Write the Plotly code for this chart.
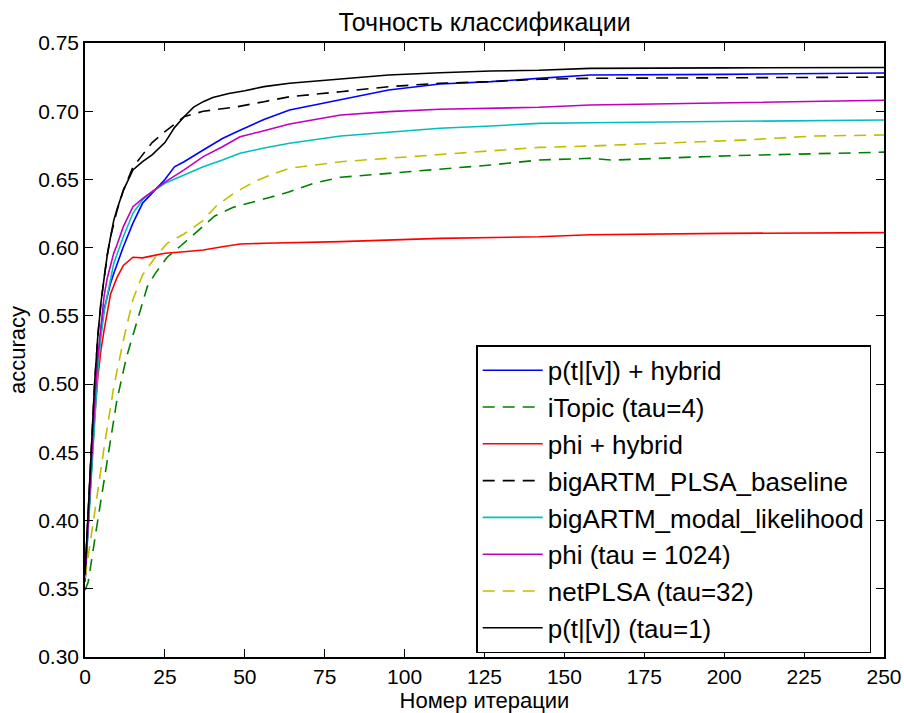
import plotly.graph_objects as go

# ---- data ----
x_hyb_ptv = [0, 1, 2, 3, 4, 5, 6, 7, 8, 9, 10, 12, 15, 18, 21, 25, 28, 31, 37, 43, 48.5, 56, 64, 80, 95, 111, 127, 142, 158, 200, 250]
y_hyb_ptv = [0.355, 0.40, 0.44, 0.48, 0.515, 0.54, 0.555, 0.565, 0.574, 0.581, 0.588, 0.6007, 0.618, 0.6325, 0.640, 0.650, 0.6593, 0.663, 0.6716, 0.680, 0.686, 0.694, 0.7009, 0.7082, 0.7156, 0.720, 0.7217, 0.7241, 0.7265, 0.727, 0.728]

x_itopic = [0, 1, 4, 7, 10, 13, 16.4, 19.5, 22, 25.7, 30, 35.2, 40.6, 46.4, 52.9, 58, 64, 71.5, 80, 95, 111, 127, 142, 158, 165, 202, 250]
y_itopic = [0.349, 0.355, 0.4004, 0.444, 0.4884, 0.520, 0.547, 0.5714, 0.5812, 0.593, 0.6014, 0.6124, 0.6232, 0.6296, 0.6335, 0.6369, 0.641, 0.6472, 0.6516, 0.6545, 0.6574, 0.6606, 0.6642, 0.6655, 0.6642, 0.6674, 0.670]

x_phi_hyb = [0, 1, 2, 3, 4, 5, 6, 7, 8, 10, 12, 15, 18, 21, 25, 31, 37, 43, 48.5, 56, 80, 111, 142, 158, 200, 250]
y_phi_hyb = [0.36, 0.40, 0.44, 0.475, 0.505, 0.525, 0.54, 0.553, 0.566, 0.578, 0.587, 0.593, 0.5925, 0.594, 0.5959, 0.597, 0.5983, 0.6007, 0.6027, 0.6032, 0.6044, 0.6068, 0.608, 0.6095, 0.6105, 0.611]

x_plsa = [0, 1, 2, 3, 4, 5, 6, 7, 8, 10, 12, 15, 18, 21, 25, 31, 37, 47, 56, 64, 80, 95, 111, 127, 142, 158, 200, 250]
y_plsa = [0.36, 0.41, 0.46, 0.50, 0.535, 0.56, 0.578, 0.595, 0.608, 0.627, 0.642, 0.659, 0.668, 0.677, 0.685, 0.696, 0.700, 0.703, 0.707, 0.7106, 0.7143, 0.718, 0.7205, 0.7217, 0.7234, 0.7241, 0.7245, 0.725]

x_modal = [0, 1, 2, 3, 4, 5, 6, 7, 8, 9, 12, 15, 18, 21, 25, 31, 37, 43, 48.5, 56, 64, 80, 95, 111, 127, 142, 158, 200, 250]
y_modal = [0.355, 0.395, 0.435, 0.475, 0.51, 0.535, 0.553, 0.565, 0.576, 0.5885, 0.608, 0.6252, 0.635, 0.641, 0.6472, 0.6533, 0.6593, 0.6642, 0.6692, 0.673, 0.6765, 0.6818, 0.6843, 0.6875, 0.6892, 0.6911, 0.6916, 0.6925, 0.6936]

x_phi1024 = [0, 1, 2, 3, 4, 5, 6, 7, 8, 9, 10, 12, 15, 18, 21, 25, 31, 37, 43, 48.5, 56, 64, 80, 95, 111, 127, 142, 158, 200, 250]
y_phi1024 = [0.355, 0.40, 0.445, 0.485, 0.52, 0.545, 0.565, 0.578, 0.588, 0.596, 0.602, 0.6154, 0.630, 0.636, 0.641, 0.648, 0.657, 0.6667, 0.674, 0.6813, 0.6857, 0.6906, 0.6972, 0.6997, 0.7014, 0.7021, 0.7029, 0.7046, 0.706, 0.708]

x_netplsa = [0, 1, 3, 6, 9, 12, 15, 18, 19.5, 22, 25.7, 31, 36.7, 41.4, 46.6, 52.9, 58, 64, 80, 95, 111, 127, 142, 158, 207, 228, 250]
y_netplsa = [0.358, 0.375, 0.4055, 0.454, 0.498, 0.532, 0.562, 0.580, 0.585, 0.593, 0.6032, 0.610, 0.6195, 0.6313, 0.6398, 0.6483, 0.6533, 0.6582, 0.663, 0.6655, 0.6684, 0.6711, 0.6735, 0.6745, 0.679, 0.6818, 0.6826]

x_ptv1 = [0, 1, 2, 3, 4, 5, 6, 7, 8, 9, 10, 12, 15, 18, 21, 25, 28, 31, 34, 37, 40, 45, 50, 56, 64, 80, 95, 111, 127, 142, 158, 200, 250]
y_ptv1 = [0.36, 0.41, 0.46, 0.50, 0.535, 0.56, 0.578, 0.595, 0.608, 0.62, 0.628, 0.642, 0.657, 0.663, 0.668, 0.677, 0.688, 0.696, 0.703, 0.707, 0.710, 0.713, 0.715, 0.718, 0.7205, 0.7234, 0.7265, 0.7282, 0.7295, 0.730, 0.7314, 0.7318, 0.732]

names = ["p(t|[v]) + hybrid", "iTopic (tau=4)", "phi + hybrid", "bigARTM_PLSA_baseline",
         "bigARTM_modal_likelihood", "phi (tau = 1024)", "netPLSA (tau=32)", "p(t|[v]) (tau=1)"]
xs = [x_hyb_ptv, x_itopic, x_phi_hyb, x_plsa, x_modal, x_phi1024, x_netplsa, x_ptv1]
ys = [y_hyb_ptv, y_itopic, y_phi_hyb, y_plsa, y_modal, y_phi1024, y_netplsa, y_ptv1]
colors = ["#0000ff", "#008000", "#ff0000", "#000000", "#00bfbf", "#bf00bf", "#bfbf00", "#000000"]
dashes = ["solid", "12px,8px", "solid", "12px,8px", "solid", "solid", "12px,8px", "solid"]

x_ticks = [0, 25, 50, 75, 100, 125, 150, 175, 200, 225, 250]
y_ticks = [0.30, 0.35, 0.40, 0.45, 0.50, 0.55, 0.60, 0.65, 0.70, 0.75]

FONT = "Liberation Sans, Arial, sans-serif"

fig = go.Figure()
for i, (n, xv, yv, c, d) in enumerate(zip(names, xs, ys, colors, dashes)):
    fig.add_trace(go.Scatter(x=xv, y=yv, mode="lines", name=n,
                             line=dict(color=c, width=1.6, dash=d)))

axis_common = dict(showline=True, linecolor="black", linewidth=1.5, mirror="ticks",
                   ticks="inside", ticklen=8, tickwidth=1, tickcolor="black",
                   showgrid=False, zeroline=False, automargin=False,
                   tickfont=dict(family=FONT, size=21, color="black"))

fig.update_xaxes(range=[0, 250], tickvals=x_ticks,
                 title=dict(text="Номер итерации", font=dict(family=FONT, size=22, color="black"), standoff=4),
                 **axis_common)
fig.update_yaxes(range=[0.30, 0.75], tickvals=y_ticks, tickformat=".2f",
                 title=dict(text="accuracy", font=dict(family=FONT, size=22, color="black"), standoff=6),
                 **axis_common)

fig.update_layout(
    width=904, height=713,
    margin=dict(l=85, r=20, t=43, b=56, autoexpand=False),
    paper_bgcolor="white", plot_bgcolor="white",
    title=dict(text="Точность классификации", x=0.536, xanchor="center",
               yref="container", y=0.969, yanchor="middle",
               font=dict(family=FONT, size=25, color="black")),
    legend=dict(x=0.984, xanchor="right", y=0.006, yanchor="bottom",
                bgcolor="white", bordercolor="black", borderwidth=1.5,
                font=dict(family=FONT, size=26, color="black"),
                itemwidth=60),
    showlegend=True,
)

fig.write_html("out.html", config={"displayModeBar": False},
               post_script="document.body.style.margin='0';document.body.style.overflow='hidden';")
